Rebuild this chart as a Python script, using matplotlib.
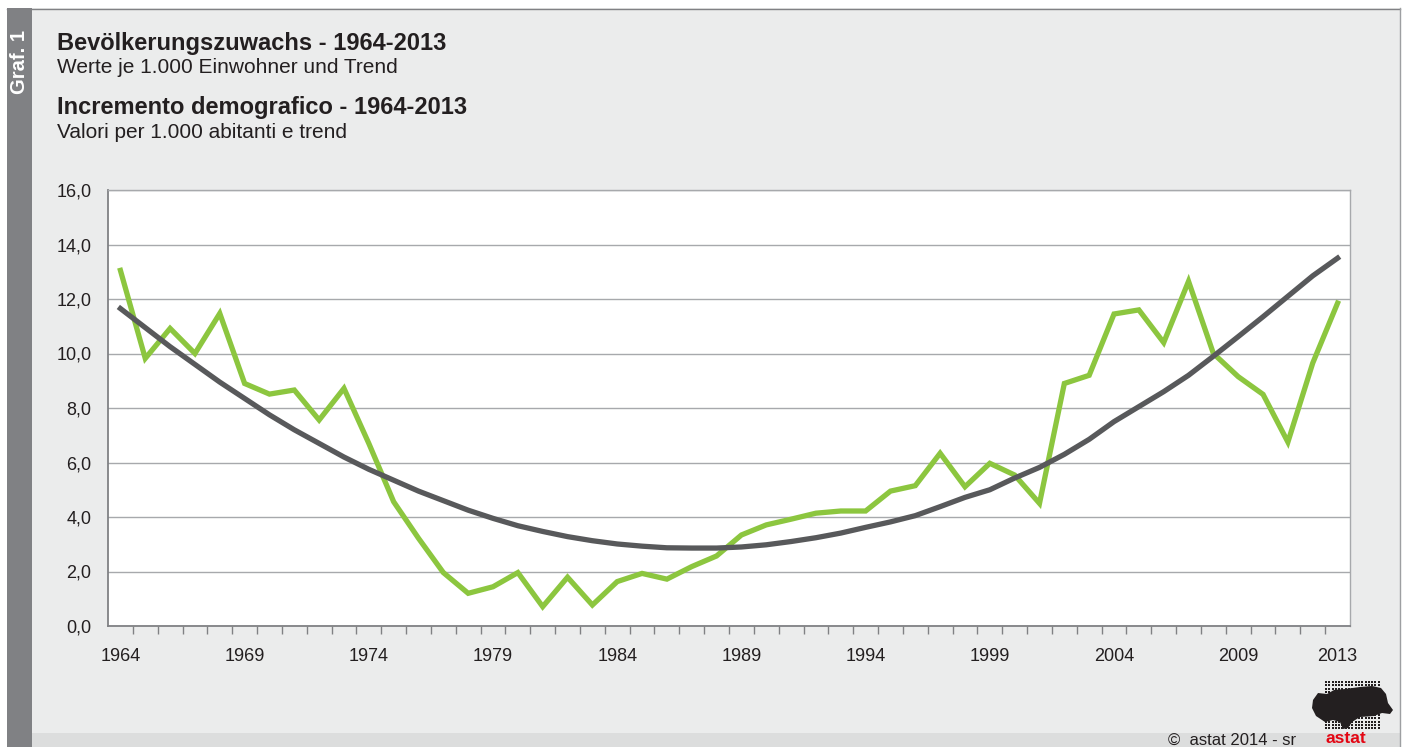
import numpy as np
import matplotlib.pyplot as plt
from matplotlib.patches import Rectangle, Polygon

plt.rcParams['font.family'] = ['Liberation Sans', 'DejaVu Sans']

# Daten: Bevölkerungszuwachs je 1.000 Einwohner und Trend
years = list(range(1964, 2014))
growth = [13.05, 9.82, 10.92, 10.0, 11.47, 8.9, 8.51, 8.66, 7.56, 8.72,
          6.7, 4.56, 3.22, 1.96, 1.2, 1.44, 1.96, 0.71, 1.79, 0.77,
          1.63, 1.93, 1.72, 2.18, 2.57, 3.34, 3.71, 3.92, 4.14, 4.22,
          4.22, 4.95, 5.15, 6.34, 5.11, 5.97, 5.54, 4.5, 8.9, 9.2,
          11.45, 11.6, 10.4, 12.65, 10.0, 9.15, 8.5, 6.75, 9.65, 11.85]
trend = [11.65, 10.95, 10.25, 9.6, 8.95, 8.35, 7.75, 7.2, 6.7, 6.2,
         5.75, 5.35, 4.95, 4.6, 4.25, 3.95, 3.68, 3.47, 3.28, 3.13,
         3.01, 2.93, 2.87, 2.86, 2.86, 2.9, 2.98, 3.1, 3.24, 3.41,
         3.62, 3.82, 4.05, 4.38, 4.72, 5.0, 5.43, 5.82, 6.3, 6.85,
         7.5, 8.05, 8.6, 9.2, 9.9, 10.62, 11.35, 12.1, 12.85, 13.5]
tick_years = [1964, 1969, 1974, 1979, 1984, 1989, 1994, 1999, 2004, 2009, 2013]
y_ticks = [0, 2, 4, 6, 8, 10, 12, 14, 16]

W, H = 1408, 747
fig = plt.figure(figsize=(W / 100, H / 100), dpi=100)
fig.patch.set_facecolor('white')

# Rahmen / Hintergrund in Pixelkoordinaten
bg = fig.add_axes([0, 0, 1, 1])
bg.set_xlim(0, W)
bg.set_ylim(H, 0)
bg.axis('off')
bg.add_patch(Rectangle((7, 8), 1393, 739, facecolor='#ebecec', edgecolor='none'))
bg.add_patch(Rectangle((7, 733), 1393, 20, facecolor='#dcdddd', edgecolor='none'))
bg.add_patch(Rectangle((7, 8), 25, 739, facecolor='#808184', edgecolor='none'))
bg.plot([7, 1400], [8.5, 8.5], color='#808184', lw=1)
bg.plot([1399.5, 1399.5], [8, 747], color='#9d9fa2', lw=1)

bg.text(19.5, 62, 'Graf. 1', rotation=90, color='white', fontweight='bold',
        fontsize=14.5, ha='center', va='center')

txt = '#231f20'
bg.text(57, 50, 'Bevölkerungszuwachs - 1964-2013', fontsize=17,
        fontweight='bold', color=txt, va='baseline')
bg.text(57, 73, 'Werte je 1.000 Einwohner und Trend', fontsize=15,
        color=txt, va='baseline')
bg.text(57, 114, 'Incremento demografico - 1964-2013', fontsize=17,
        fontweight='bold', color=txt, va='baseline')
bg.text(57, 138, 'Valori per 1.000 abitanti e trend', fontsize=15,
        color=txt, va='baseline')

# Fußzeile
bg.text(1168, 745, '©  astat 2014 - sr', fontsize=12, color=txt, va='baseline')
bg.text(1325, 743, 'astat', fontsize=12.5, fontweight='bold', color='#e30613',
        va='baseline')

# Logo (Punktraster Südtirol, grob)
gx, gy = np.meshgrid(np.arange(1326, 1379, 3.3), np.arange(682, 731, 3.3))
bg.scatter(gx.ravel(), gy.ravel(), s=2.2, color='#231f20', marker='s', lw=0)
shape = [(1313, 700), (1318, 693), (1327, 694), (1334, 690), (1345, 689),
         (1360, 687), (1372, 686), (1381, 688), (1386, 694), (1388, 703),
         (1393, 710), (1390, 714), (1382, 713), (1374, 716), (1360, 717),
         (1352, 722), (1348, 728), (1343, 729), (1340, 722), (1333, 720),
         (1325, 722), (1316, 716), (1312, 708)]
bg.add_patch(Polygon(shape, closed=True, facecolor='#231f20', edgecolor='none'))

# Diagramm
ax = fig.add_axes([108 / W, (H - 626) / H, (1350 - 108) / W, (626 - 190) / H])
ax.set_facecolor('white')
x = np.arange(len(years))
ax.plot(x, growth, color='#8cc63f', lw=3.8, solid_joinstyle='miter', zorder=3)
ax.plot(x, trend, color='#58595b', lw=3.8, zorder=4)

ax.set_xlim(-0.5, len(years) - 0.5)
ax.set_ylim(0, 16)
ax.set_yticks(y_ticks)
ax.set_yticklabels([f'{v:.1f}'.replace('.', ',') for v in y_ticks])
ax.yaxis.grid(True, color='#a7a9ac', lw=1)
ax.set_axisbelow(True)
ax.tick_params(axis='y', length=0, pad=12, labelsize=13, labelcolor=txt)

ax.set_xticks([years.index(y) for y in tick_years])
ax.set_xticklabels([str(y) for y in tick_years])
ax.set_xticks(np.arange(0.5, len(years) - 1, 1), minor=True)
ax.tick_params(axis='x', which='major', length=0, pad=16, labelsize=13, labelcolor=txt)
ax.tick_params(axis='x', which='minor', length=6, width=1, color='#808184', direction='out')

for s in ['left', 'bottom']:
    ax.spines[s].set_color('#808184')
    ax.spines[s].set_linewidth(1.3)
for s in ['top', 'right']:
    ax.spines[s].set_color('#a7a9ac')
    ax.spines[s].set_linewidth(1)

fig.savefig('out.png', dpi=100, facecolor=fig.get_facecolor())
